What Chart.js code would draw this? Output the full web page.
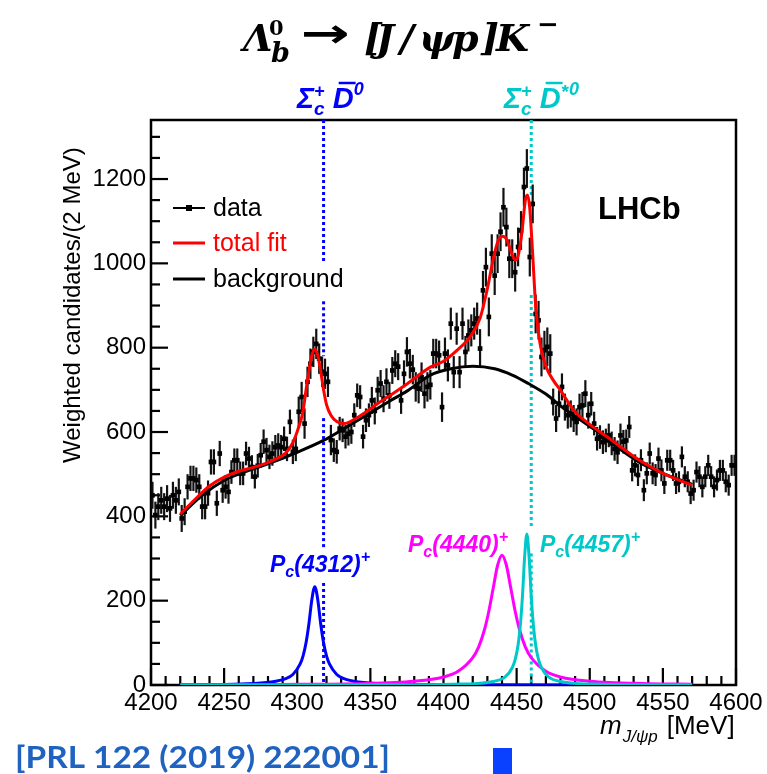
<!DOCTYPE html>
<html>
<head>
<meta charset="utf-8">
<script src="https://cdn.jsdelivr.net/npm/chart.js@4"></script>
<style>
  body { margin: 0; background: #fff; }
  canvas { display: block; }
</style>
</head>
<body>
<canvas id="myChart" width="767" height="774"></canvas>
<script>
// binning of the J/psi p mass histogram
const binLow = 4200;
const binWidth = 2;

// weighted candidates per 2 MeV bin, 4200 - 4600 MeV
const counts = [
  450, 403, 423, 438, 423, 442, 419, 450, 438, 458,
  395, 411, 470, 490, 490, 486, 470, 423, 423, 455,
  529, 529, 431, 549, 462, 470, 458, 505, 533, 533,
  502, 502, 549, 537, 517, 494, 520, 545, 577, 557,
  541, 549, 564, 568, 564, 584, 560, 624, 553, 560,
  648, 683, 620, 719, 762, 790, 809, 774, 743, 738,
  719, 581, 557, 553, 608, 604, 589, 596, 600, 640,
  687, 683, 589, 628, 640, 675, 650, 699, 715, 679,
  719, 687, 746, 762, 755, 675, 738, 790, 762, 748,
  707, 703, 730, 691, 707, 712, 786, 786, 782, 659,
  786, 758, 857, 742, 845, 742, 857, 790, 829, 841,
  857, 869, 798, 936, 991, 873, 1023, 971, 1023, 1075,
  1133, 1086, 1011, 1011, 979, 1039, 1078, 1181, 1225, 1015,
  1141, 880, 865, 778, 794, 802, 786, 671, 632, 667,
  707, 659, 640, 643, 632, 624, 659, 663, 691, 640,
  667, 620, 584, 588, 576, 580, 592, 573, 560, 552,
  592, 577, 580, 612, 509, 521, 498, 533, 462, 502,
  549, 502, 498, 537, 509, 478, 533, 533, 509, 478,
  482, 541, 494, 482, 454, 462, 505, 494, 470, 494,
  521, 494, 470, 486, 509, 509, 482, 474, 521, 521
];

// typical error bar half length in each 25 MeV band
const errBands = [32, 30, 28, 29, 36, 28, 32, 35, 38, 46, 46, 32, 28, 26, 25, 25];

// fit curves
const totalMass = [4220, 4230, 4240, 4250, 4260, 4270, 4278, 4286, 4292, 4297,
  4301, 4304, 4306, 4308, 4310, 4312, 4314, 4316, 4318, 4320,
  4323, 4327, 4332, 4340, 4348, 4356, 4364, 4375, 4391, 4400,
  4409, 4418, 4425, 4430, 4434, 4437, 4440, 4443, 4446, 4449,
  4451, 4453.5, 4456, 4457.5, 4459, 4461, 4463, 4466, 4470, 4475,
  4480, 4489, 4500, 4512, 4534, 4550, 4570];
const totalFit = [405, 440, 472, 493, 507, 516, 525, 537, 550, 575,
  612, 650, 700, 745, 782, 797, 782, 745, 700, 665,
  640, 625, 620, 632, 650, 670, 688, 714, 754, 768,
  793, 825, 870, 940, 1010, 1050, 1064, 1058, 1030, 1008,
  1018, 1070, 1150, 1162, 1130, 1020, 900, 810, 756, 723,
  699, 652, 618, 588, 533, 502, 474];

const bkgMass = [4220, 4235, 4250, 4262, 4278, 4300, 4318, 4330, 4345, 4363, 4375, 4391, 4405,
  4420, 4435, 4447, 4458, 4470, 4481, 4493, 4504, 4520, 4534, 4550, 4570];
const bkgFit = [402, 450, 485, 503, 522, 552, 580, 604, 635, 673, 697, 735, 750,
  756, 750, 735, 715, 690, 659, 630, 604, 561, 528, 502, 476];

const pc4312Mass = [4220, 4262, 4282, 4292, 4297, 4302, 4304, 4306, 4308, 4310, 4312,
  4314, 4316, 4318, 4320, 4322, 4327, 4332, 4342, 4362, 4412, 4570];
const pc4312Fit = [0.5, 2.5, 7, 15, 25, 50, 69, 100, 146, 203, 233,
  203, 146, 100, 69, 50, 25, 15, 7, 2.5, 0.6, 0.1];

const pc4440Mass = [4220, 4290, 4340, 4380, 4400, 4410, 4420, 4424, 4428, 4431, 4434, 4437, 4440,
  4443, 4446, 4449, 4452, 4456, 4460, 4470, 4480, 4500, 4540, 4570];
const pc4440Fit = [0.6, 1.4, 3.2, 8.8, 19, 32.5, 65, 90, 131, 175, 230, 284, 308,
  284, 230, 175, 131, 90, 65, 32.5, 19, 8.8, 3.2, 2];

const pc4457Mass = [4220, 4357, 4407, 4432, 4442, 4447, 4449, 4451, 4452.5, 4454, 4455.5, 4457,
  4458.5, 4460, 4461.5, 4463, 4465, 4467, 4472, 4482, 4507, 4557, 4570];
const pc4457Fit = [0.1, 0.5, 1.85, 7.3, 18.5, 41, 60, 95, 140, 211, 305, 358,
  305, 211, 140, 95, 60, 41, 18.5, 7.3, 1.85, 0.5, 0.4];

// Sigma_c D-bar thresholds and the y ranges where the dotted lines are drawn
const thrSigmaD = 4318;
const thrSigmaDstar = 4460;
const thrSigmaDSegs = [[1340, 1000], [910, 780], [633, 325], [242, 0]];
const thrSigmaDstarSegs = [[1340, 1155], [925, 372], [312, 0]];

const xTickLabels = [4200, 4250, 4300, 4350, 4400, 4450, 4500, 4550, 4600];
const yTickLabels = [0, 200, 400, 600, 800, 1000, 1200];

const SANS = "'Liberation Sans', Arial, Helvetica, sans-serif";
const SERIF = "'DejaVu Serif', 'Liberation Serif', serif";
const BLUE = 'rgb(0,0,255)';
const CYAN = 'rgb(0,200,200)';
const MAGENTA = 'rgb(255,0,255)';

function pairs(xs, ys) {
  return xs.map((x, i) => ({ x: x, y: ys[i] }));
}

const dataPoints = counts.map((c, i) => ({ x: binLow + binWidth * (i + 0.5), y: c }));

function curve(label, xs, ys, color, order) {
  return {
    label: label, data: pairs(xs, ys), showLine: true, borderColor: color,
    backgroundColor: color, borderWidth: 3, pointRadius: 0,
    cubicInterpolationMode: 'monotone', order: order
  };
}

// draws a list of text runs, sub/superscripts given as dy offsets
function drawRuns(ctx, x, y, runs, color) {
  ctx.fillStyle = color;
  ctx.strokeStyle = color;
  ctx.textAlign = 'left';
  ctx.textBaseline = 'alphabetic';
  let cx = x;
  runs.forEach(r => {
    ctx.font = r.font;
    const w = ctx.measureText(r.t).width;
    ctx.fillText(r.t, cx, y + (r.dy || 0));
    if (r.bar) {
      ctx.lineWidth = 2.5;
      ctx.beginPath();
      ctx.moveTo(cx + 6, y - r.bar);
      ctx.lineTo(cx + w + 2, y - r.bar);
      ctx.stroke();
    }
    if (!r.hold) cx += w + (r.gap || 0);
  });
}

const errorBars = {
  id: 'errorBars',
  beforeDatasetsDraw(chart) {
    const { ctx, scales: { x, y }, chartArea } = chart;
    ctx.save();

    // frame and inward ticks
    ctx.strokeStyle = '#000';
    ctx.lineWidth = 2.5;
    ctx.strokeRect(chartArea.left, chartArea.top, chartArea.right - chartArea.left, chartArea.bottom - chartArea.top);
    ctx.lineWidth = 2.2;
    for (let v = 0; v <= 1300; v += 50) {
      const py = y.getPixelForValue(v);
      const len = v % 200 === 0 ? 17 : 9;
      ctx.beginPath();
      ctx.moveTo(chartArea.left, py);
      ctx.lineTo(chartArea.left + len, py);
      ctx.stroke();
    }
    for (let v = 4200; v <= 4600; v += 10) {
      const px = x.getPixelForValue(v);
      const len = v % 50 === 0 ? 17 : 9;
      ctx.beginPath();
      ctx.moveTo(px, chartArea.bottom);
      ctx.lineTo(px, chartArea.bottom - len);
      ctx.stroke();
    }

    // threshold lines
    ctx.lineWidth = 3;
    ctx.setLineDash([3, 3]);
    [[thrSigmaD, thrSigmaDSegs, BLUE], [thrSigmaDstar, thrSigmaDstarSegs, CYAN]].forEach(([m, segs, col]) => {
      ctx.strokeStyle = col;
      const px = x.getPixelForValue(m);
      segs.forEach(([a, b]) => {
        ctx.beginPath();
        ctx.moveTo(px, y.getPixelForValue(a));
        ctx.lineTo(px, y.getPixelForValue(b));
        ctx.stroke();
      });
    });
    ctx.setLineDash([]);

    // error bars
    ctx.strokeStyle = '#111';
    ctx.lineWidth = 2.2;
    dataPoints.forEach(p => {
      const e = errBands[Math.min(errBands.length - 1, Math.floor((p.x - binLow) / 25))];
      const px = x.getPixelForValue(p.x);
      ctx.beginPath();
      ctx.moveTo(px, y.getPixelForValue(p.y - e));
      ctx.lineTo(px, y.getPixelForValue(p.y + e));
      ctx.stroke();
    });
    ctx.restore();
  }
};

const annotations = {
  id: 'annotations',
  afterDraw(chart) {
    const ctx = chart.ctx;
    ctx.save();

    // title
    const tf = s => `bold italic ${s}px ${SERIF}`;
    ctx.fillStyle = '#000';
    ctx.textBaseline = 'alphabetic';
    ctx.font = tf(38); ctx.fillText('Λ', 243, 51);
    ctx.font = `bold 21px ${SERIF}`; ctx.fillText('0', 269, 35);
    ctx.font = tf(27); ctx.fillText('b', 271, 62);
    ctx.font = `bold 40px 'DejaVu Sans', sans-serif`;
    ctx.save();
    ctx.translate(301, 47);
    ctx.scale(49 / ctx.measureText('→').width, 1);
    ctx.fillText('→', 0, 0);
    ctx.restore();
    ctx.font = tf(38);
    [['[', 364], ['J', 376], ['/', 400], ['ψ', 419], ['p', 452], [']', 481], ['K', 496]].forEach(([t, px]) => ctx.fillText(t, px, 51));
    ctx.font = tf(26); ctx.fillText('−', 537, 33);

    // threshold labels above the frame
    const bi = s => `bold italic ${s}px ${SANS}`;
    drawRuns(ctx, 297, 108, [
      { t: 'Σ', font: bi(29) },
      { t: '+', font: bi(18), dy: -11, hold: true },
      { t: 'c', font: bi(19), dy: 7, gap: 8 },
      { t: 'D', font: bi(29), bar: 25 },
      { t: '0', font: bi(18), dy: -13 }
    ], BLUE);
    drawRuns(ctx, 504, 108, [
      { t: 'Σ', font: bi(29) },
      { t: '+', font: bi(18), dy: -11, hold: true },
      { t: 'c', font: bi(19), dy: 7, gap: 8 },
      { t: 'D', font: bi(29), bar: 25 },
      { t: '*', font: bi(19), dy: -10, gap: 1 },
      { t: '0', font: bi(18), dy: -13 }
    ], CYAN);

    // resonance labels
    const pcRuns = m => [
      { t: 'P', font: bi(23) },
      { t: 'c', font: bi(16), dy: 5 },
      { t: '(' + m + ')', font: bi(23) },
      { t: '+', font: bi(16), dy: -10 }
    ];
    drawRuns(ctx, 270, 572, pcRuns('4312'), BLUE);
    drawRuns(ctx, 408, 552, pcRuns('4440'), MAGENTA);
    drawRuns(ctx, 540, 552, pcRuns('4457'), CYAN);

    // legend
    ctx.strokeStyle = '#000';
    ctx.lineWidth = 2;
    ctx.beginPath(); ctx.moveTo(173, 208); ctx.lineTo(205, 208); ctx.stroke();
    ctx.fillStyle = '#000'; ctx.fillRect(186, 205, 6, 6);
    ctx.lineWidth = 3;
    ctx.strokeStyle = 'rgb(255,0,0)';
    ctx.beginPath(); ctx.moveTo(173, 243); ctx.lineTo(205, 243); ctx.stroke();
    ctx.strokeStyle = '#000';
    ctx.beginPath(); ctx.moveTo(173, 279); ctx.lineTo(205, 279); ctx.stroke();
    ctx.font = `25px ${SANS}`;
    ctx.textBaseline = 'middle';
    ctx.fillStyle = '#000'; ctx.fillText('data', 213, 209);
    ctx.fillStyle = 'rgb(255,0,0)'; ctx.fillText('total fit', 213, 244);
    ctx.fillStyle = '#000'; ctx.fillText('background', 213, 280);

    ctx.font = `bold 31px ${SANS}`;
    ctx.textBaseline = 'alphabetic';
    ctx.fillText('LHCb', 598, 219);

    // axis titles
    ctx.save();
    ctx.translate(73, 463);
    ctx.rotate(-Math.PI / 2);
    ctx.font = `24px ${SANS}`;
    ctx.textBaseline = 'middle';
    ctx.fillText('Weighted candidates/(2 MeV)', 0, 0);
    ctx.restore();
    drawRuns(ctx, 600, 734, [
      { t: 'm', font: `italic 26px ${SANS}`, gap: 1 },
      { t: 'J/ψp', font: `italic 17px ${SANS}`, dy: 8, gap: 9 },
      { t: '[MeV]', font: `26px ${SANS}` }
    ], '#000');

    // reference
    ctx.save();
    ctx.font = `bold 31px Lato, ${SANS}`;
    ctx.fillStyle = '#1f62bf';
    const ref = '[PRL 122 (2019) 222001]';
    ctx.translate(15, 768);
    ctx.scale(375 / ctx.measureText(ref).width, 1);
    ctx.fillText(ref, 0, 0);
    ctx.restore();
    ctx.fillStyle = '#0a40ff';
    ctx.fillRect(493, 748, 19, 26);
    ctx.restore();
  }
};

function drawChart() {
  const tickFont = { size: 24, family: SANS };
  const config = {
    type: 'scatter',
    data: {
      datasets: [
        { label: 'data', data: dataPoints, pointStyle: 'rect', pointRadius: 3.3,
          backgroundColor: '#000', borderColor: '#000', borderWidth: 0, showLine: false, order: 10 },
        curve('background', bkgMass, bkgFit, '#000', 5),
        curve('Pc(4312)+', pc4312Mass, pc4312Fit, BLUE, 4),
        curve('Pc(4440)+', pc4440Mass, pc4440Fit, MAGENTA, 3),
        curve('Pc(4457)+', pc4457Mass, pc4457Fit, CYAN, 2),
        curve('total fit', totalMass, totalFit, 'rgb(255,0,0)', 1)
      ]
    },
    options: {
      responsive: false,
      animation: false,
      devicePixelRatio: 1,
      layout: { padding: { top: 120, right: 31, left: 0, bottom: 0 } },
      plugins: { legend: { display: false }, tooltip: { enabled: false } },
      scales: {
        x: {
          type: 'linear', min: 4200, max: 4600,
          afterFit(s) { s.height = 89; },
          afterBuildTicks(s) { s.ticks = xTickLabels.map(v => ({ value: v })); },
          grid: { display: false, drawTicks: false },
          border: { display: false },
          ticks: { color: '#000', font: tickFont, padding: 4, maxRotation: 0, autoSkip: false,
                   callback: v => String(v) }
        },
        y: {
          type: 'linear', min: 0, max: 1340,
          afterFit(s) { s.width = 151; },
          afterBuildTicks(s) { s.ticks = yTickLabels.map(v => ({ value: v })); },
          grid: { display: false, drawTicks: false },
          border: { display: false },
          ticks: { color: '#000', font: tickFont, padding: 5, autoSkip: false,
                   callback: v => String(v) }
        }
      }
    },
    plugins: [errorBars, annotations]
  };
  new Chart(document.getElementById('myChart'), config);
}

window.onload = drawChart;
</script>
</body>
</html>
